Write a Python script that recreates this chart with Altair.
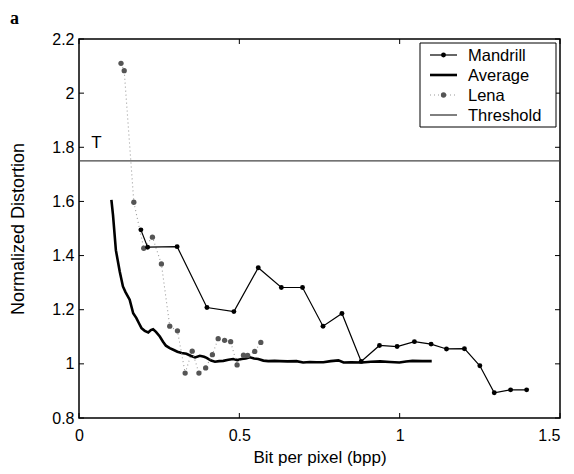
import altair as alt
import pandas as pd

# ---------------- data ----------------
mandrill_x = [0.193, 0.214, 0.306, 0.399, 0.483, 0.559, 0.631, 0.697, 0.761, 0.820, 0.880,
              0.937, 0.992, 1.046, 1.098, 1.146, 1.202, 1.250, 1.295, 1.346, 1.396]
mandrill_y = [1.495, 1.431, 1.433, 1.208, 1.193, 1.355, 1.282, 1.282, 1.139, 1.186, 1.009,
              1.068, 1.064, 1.082, 1.073, 1.055, 1.056, 0.993, 0.893, 0.904, 0.904]

lena_x = [0.131, 0.141, 0.171, 0.202, 0.229, 0.257, 0.283, 0.307, 0.331, 0.353, 0.374,
          0.395, 0.416, 0.434, 0.454, 0.473, 0.493, 0.513, 0.526, 0.548, 0.567]
lena_y = [2.110, 2.083, 1.597, 1.427, 1.468, 1.369, 1.139, 1.122, 0.966, 1.047, 0.966,
          0.985, 1.034, 1.093, 1.087, 1.082, 0.996, 1.032, 1.031, 1.046, 1.079]

avg_x = [0.101, 0.106, 0.115, 0.127, 0.137, 0.145, 0.158, 0.169, 0.179, 0.187, 0.195,
         0.205, 0.216, 0.224, 0.231, 0.240, 0.252, 0.262, 0.271, 0.283, 0.294, 0.307,
         0.320, 0.335, 0.348, 0.362, 0.377, 0.390, 0.398, 0.412, 0.424, 0.437, 0.450,
         0.466, 0.481, 0.494, 0.507, 0.520, 0.533, 0.546, 0.559, 0.575, 0.590, 0.610,
         0.626, 0.650, 0.678, 0.699, 0.720, 0.740, 0.762, 0.785, 0.809, 0.825, 0.850,
         0.882, 0.910, 0.939, 0.970, 0.999, 1.020, 1.040, 1.070, 1.100]
avg_y = [1.606, 1.550, 1.420, 1.341, 1.286, 1.265, 1.237, 1.187, 1.169, 1.150, 1.132,
         1.122, 1.116, 1.125, 1.128, 1.118, 1.101, 1.082, 1.067, 1.058, 1.052, 1.045,
         1.040, 1.037, 1.030, 1.024, 1.030, 1.026, 1.022, 1.012, 1.008, 1.010, 1.011,
         1.015, 1.018, 1.014, 1.018, 1.020, 1.024, 1.020, 1.018, 1.012, 1.010, 1.011,
         1.010, 1.009, 1.010, 1.005, 1.007, 1.006, 1.006, 1.010, 1.013, 1.005, 1.006,
         1.005, 1.008, 1.009, 1.007, 1.005, 1.009, 1.011, 1.010, 1.010]

threshold_value = [1.75]
series_names = ["Mandrill", "Average", "Lena", "Threshold"]
x_ticks = [0, 0.5, 1, 1.5]
y_ticks = [0.8, 1, 1.2, 1.4, 1.6, 1.8, 2, 2.2]
t_label = ["T"]
t_pos_x = [0.054]
t_pos_y = [1.796]
panel_label = ["a"]

# ---------------- layout / style ----------------
W, H = 481, 379
FONT = "Liberation Sans"
TICK_LEN = 5

xs = alt.Scale(domain=[0, 1.5], nice=False, zero=False)
ys = alt.Scale(domain=[0.8, 2.2], nice=False, zero=False)

x_axis = alt.Axis(values=x_ticks, format="~g", title="Bit per pixel (bpp)",
                  labelPadding=9, titleY=44, titleBaseline="alphabetic",
                  labelAlign={"condition": {"test": "datum.value >= 1.5", "value": "right"},
                              "value": "center"},
                  labelFlush=False)
y_axis = alt.Axis(values=y_ticks, format="~g", title="Normalized Distortion",
                  labelPadding=5, titleX=-61, titleY=H / 2, titleBaseline="middle",
                  titleFontSize=18)


def X(field):
    return alt.X(f"{field}:Q", scale=xs, axis=x_axis)


def Y(field):
    return alt.Y(f"{field}:Q", scale=ys, axis=y_axis)


mand_df = pd.DataFrame({"x": mandrill_x, "y": mandrill_y})
lena_df = pd.DataFrame({"x": lena_x, "y": lena_y})
avg_df = pd.DataFrame({"x": avg_x, "y": avg_y})
thr_df = pd.DataFrame({"y": threshold_value})
xt_df = pd.DataFrame({"x": x_ticks})
yt_df = pd.DataFrame({"y": y_ticks})
t_df = pd.DataFrame({"x": t_pos_x, "y": t_pos_y, "t": t_label})

layers = []

# threshold
layers.append(alt.Chart(thr_df).mark_rule(color="#444444", strokeWidth=1.3).encode(y=Y("y")))

# average
layers.append(alt.Chart(avg_df).mark_line(color="black", strokeWidth=2.6).encode(
    x=X("x"), y=Y("y"), order="x:Q"))

# lena
layers.append(alt.Chart(lena_df).mark_line(color="#9a9a9a", strokeWidth=1.1, strokeDash=[1, 3]).encode(
    x=X("x"), y=Y("y"), order="x:Q"))
layers.append(alt.Chart(lena_df).mark_circle(color="#555555", size=28, opacity=1).encode(
    x=X("x"), y=Y("y")))

# mandrill
layers.append(alt.Chart(mand_df).mark_line(color="black", strokeWidth=1.2).encode(
    x=X("x"), y=Y("y"), order="x:Q"))
layers.append(alt.Chart(mand_df).mark_circle(color="black", size=24, opacity=1).encode(
    x=X("x"), y=Y("y")))

# inward ticks (bottom, top, left, right)
layers.append(alt.Chart(xt_df).mark_rule(color="black", strokeWidth=1).encode(
    x=X("x"), y=alt.value(H - TICK_LEN), y2=alt.value(H)))
layers.append(alt.Chart(xt_df).mark_rule(color="black", strokeWidth=1).encode(
    x=X("x"), y=alt.value(0), y2=alt.value(TICK_LEN)))
layers.append(alt.Chart(yt_df).mark_rule(color="black", strokeWidth=1).encode(
    y=Y("y"), x=alt.value(0), x2=alt.value(TICK_LEN)))
layers.append(alt.Chart(yt_df).mark_rule(color="black", strokeWidth=1).encode(
    y=Y("y"), x=alt.value(W - TICK_LEN), x2=alt.value(W)))

# "T" annotation
layers.append(alt.Chart(t_df).mark_text(font=FONT, fontSize=17, color="black",
                                        align="center", baseline="alphabetic").encode(
    x=X("x"), y=Y("y"), text="t:N"))

# panel label "a"
layers.append(alt.Chart(pd.DataFrame({"t": panel_label})).mark_text(
    font="Liberation Serif", fontSize=18, fontWeight="bold", color="black",
    align="left", baseline="alphabetic").encode(
    x=alt.value(-69), y=alt.value(-15), text="t:N"))

# ---------------- legend (drawn by hand) ----------------
LX0, LX1, LY0, LY1 = 341, 477, 4, 88
layers.append(alt.Chart(pd.DataFrame({"n": [len(series_names)]})).mark_rect(
    fill="white", stroke="black", strokeWidth=1).encode(
    x=alt.value(LX0), x2=alt.value(LX1), y=alt.value(LY0), y2=alt.value(LY1)))

line_styles = {
    "Mandrill": dict(color="black", strokeWidth=1.2),
    "Average": dict(color="black", strokeWidth=2.6),
    "Lena": dict(color="#9a9a9a", strokeWidth=1.1, strokeDash=[1, 3]),
    "Threshold": dict(color="black", strokeWidth=1),
}
marker_styles = {
    "Mandrill": dict(color="black", size=24, opacity=1),
    "Lena": dict(color="#555555", size=28, opacity=1),
}
for i, name in enumerate(series_names):
    ry = 16 + 20 * i
    df = pd.DataFrame({"label": [name]})
    layers.append(alt.Chart(df).mark_rule(**line_styles[name]).encode(
        x=alt.value(351), x2=alt.value(378), y=alt.value(ry)))
    if name in marker_styles:
        layers.append(alt.Chart(df).mark_circle(**marker_styles[name]).encode(
            x=alt.value(364.5), y=alt.value(ry)))
    layers.append(alt.Chart(df).mark_text(font=FONT, fontSize=16.5, color="black",
                                          align="left", baseline="middle").encode(
        x=alt.value(389), y=alt.value(ry + 1), text="label:N"))

chart = alt.layer(*layers).properties(
    width=W, height=H,
    autosize=alt.AutoSizeParams(type="none"),
    padding={"left": 71, "top": 31, "right": 6, "bottom": 48},
    background="white",
).configure_view(
    stroke="black", strokeWidth=1.5
).configure_axis(
    domain=False, ticks=False, grid=False,
    labelFont=FONT, labelFontSize=16, labelColor="black",
    titleFont=FONT, titleFontSize=17, titleFontWeight="normal", titleColor="black",
)

chart.save("out.html", embed_options={"renderer": "svg", "actions": False})
